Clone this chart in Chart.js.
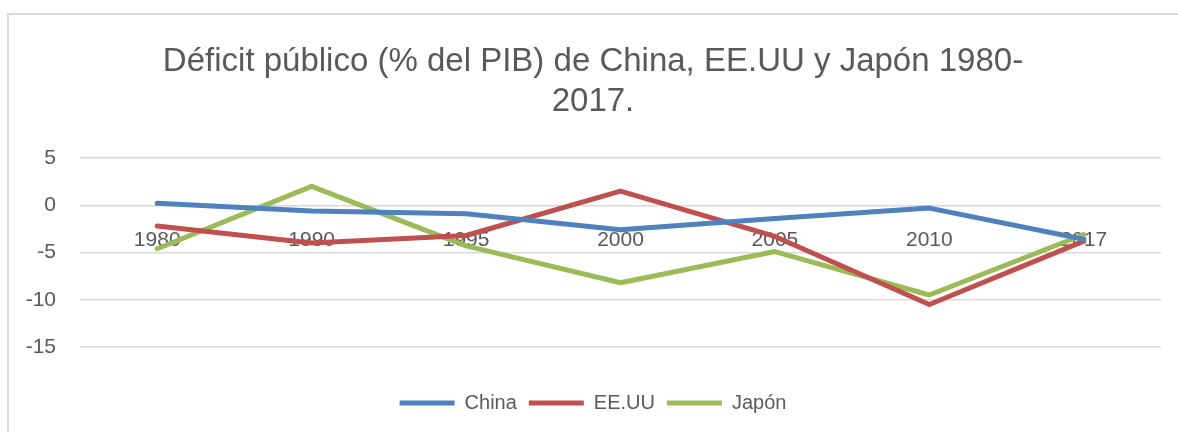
<!DOCTYPE html>
<html>
<head>
<meta charset="utf-8">
<script src="https://cdn.jsdelivr.net/npm/chart.js@4"></script>
<style>
  html, body { margin: 0; padding: 0; background: #fff; }
  #frame { position: absolute; left: 7px; top: 13px; width: 1300px; height: 500px;
           border-left: 2px solid #d9d9d9; border-top: 2px solid #d9d9d9; }
  #wrap { position: absolute; left: 0; top: 0; width: 1178px; height: 432px; }
</style>
</head>
<body>
<div id="frame"></div>
<div id="wrap"><canvas id="chart"></canvas></div>
<script>
// Déficit público (% del PIB)
const years = ['1980', '1990', '1995', '2000', '2005', '2010', '2017'];
const china = [0.2, -0.6, -0.9, -2.6, -1.4, -0.3, -3.6];
const eeuu = [-2.2, -4.0, -3.2, 1.5, -3.3, -10.5, -3.8];
const japon = [-4.6, 2.0, -4.3, -8.2, -4.9, -9.5, -3.1];

const FONT = 'Liberation Sans, Arial, sans-serif';
const TEXT = '#595959';

function line(label, data, color) {
  return {
    label,
    data,
    borderColor: color,
    backgroundColor: color,
    borderWidth: 5,
    borderCapStyle: 'round',
    borderJoinStyle: 'round',
    pointRadius: 0,
    pointHoverRadius: 0,
    tension: 0,
    fill: false,
  };
}

new Chart(document.getElementById('chart'), {
  type: 'line',
  data: {
    labels: years,
    datasets: [
      line('China', china, '#4f81bd'),
      line('EE.UU', eeuu, '#c0504d'),
      line('Japón', japon, '#9bbb59'),
    ],
  },
  options: {
    responsive: true,
    maintainAspectRatio: false,
    animation: false,
    layout: { padding: { left: 25, right: 17, top: 0, bottom: 9 } },
    plugins: {
      title: {
        display: true,
        text: ['Déficit público (% del PIB) de China, EE.UU y Japón 1980-', '2017.'],
        color: TEXT,
        font: { family: FONT, size: 33, weight: 'normal', lineHeight: 40 / 33 },
        padding: { top: 42, bottom: 36 },
      },
      legend: {
        position: 'bottom',
        title: { display: true, text: '', font: { size: 1, lineHeight: 1 }, padding: { top: 33, bottom: 0 } },
        labels: {
          color: TEXT,
          font: { family: FONT, size: 20 },
          usePointStyle: true,
          pointStyle: 'line',
          pointStyleWidth: 55,
          boxHeight: 20,
          padding: 12,
        },
      },
      tooltip: { enabled: false },
    },
    scales: {
      x: {
        position: { y: 0 },
        offset: true,
        grid: { display: false, drawTicks: false, offset: true },
        border: { display: false },
        ticks: { color: TEXT, font: { family: FONT, size: 21 }, padding: 22, maxRotation: 0 },
      },
      y: {
        min: -15,
        max: 5,
        ticks: { stepSize: 5, color: TEXT, font: { family: FONT, size: 21 }, padding: 24 },
        grid: { color: '#d9d9d9', lineWidth: 1.5, drawTicks: false },
        border: { display: false },
        afterFit(scale) { scale.width = 55; },
      },
    },
  },
});
</script>
</body>
</html>
